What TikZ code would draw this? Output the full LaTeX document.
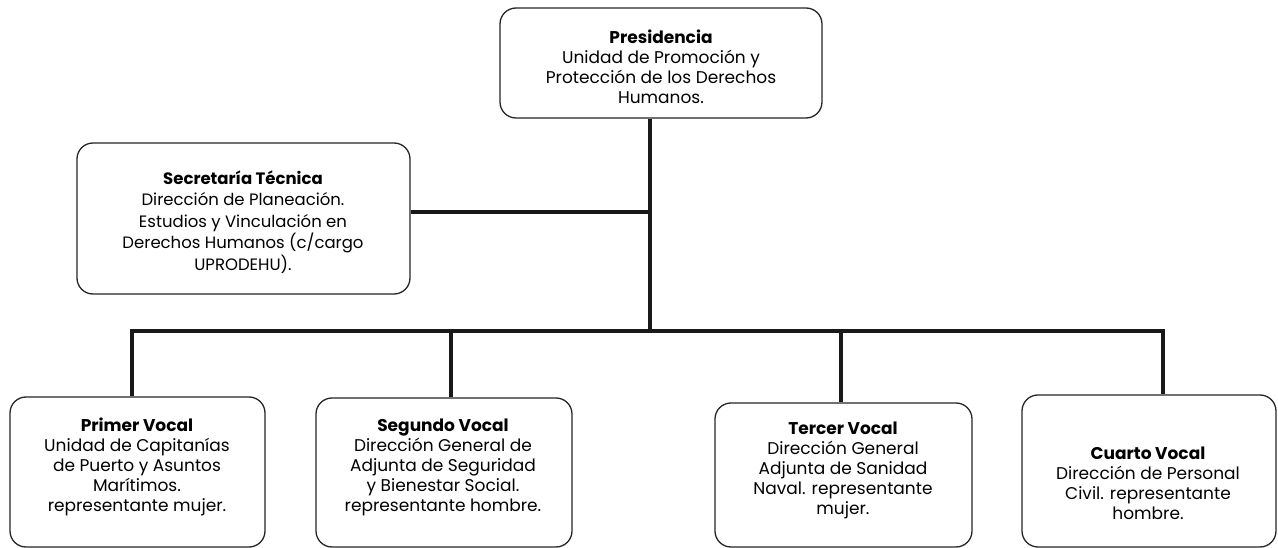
\documentclass[tikz,border=0pt]{standalone}
\usepackage{fontspec}
\setmainfont{Poppins}
\begin{document}
\begin{tikzpicture}[x=1pt,y=-1pt,
  box/.style={draw=black!85,line width=1.3pt,rounded corners=16pt,fill=white,inner sep=0pt},
  lbl/.style={align=center,font=\fontsize{17}{20}\selectfont,text=black,inner sep=0pt},
  conn/.style={draw=black!90,line width=3.6pt}]
\useasboundingbox (0,0) rectangle (1278,548);
\fill[white] (0,0) rectangle (1278,548);
% connectors
\coordinate (tj) at (650,212);
\coordinate (d1) at (132,331);
\coordinate (d2) at (451,331);
\coordinate (d3) at (841,331);
\coordinate (d4) at (1163,331);
\coordinate (bj) at (650,331);
% boxes
\node[box,minimum width=322pt,minimum height=110pt] (pres) at (661,63) {};
\node[box,minimum width=333pt,minimum height=151pt] (sec) at (243.5,218.5) {};
\node[box,minimum width=255pt,minimum height=150pt] (v1) at (137.5,472) {};
\node[box,minimum width=256pt,minimum height=149pt] (v2) at (444,472.5) {};
\node[box,minimum width=257pt,minimum height=144pt] (v3) at (843.5,475) {};
\node[box,minimum width=254pt,minimum height=152pt] (v4) at (1149,471) {};
\draw[conn] (pres.south -| tj) -- (bj);
\draw[conn] (sec.east |- tj) -- (tj);
\draw[conn,line join=miter] (v1.north -| d1) -- (d1) -- (d4) -- (v4.north -| d4);
\draw[conn] (d2) -- (v2.north -| d2);
\draw[conn] (d3) -- (v3.north -| d3);
% labels
\node[lbl] (presl) at (661,67) {\textbf{Presidencia}\\Unidad de Promoción y\\Protección de los Derechos\\Humanos.};
\node[lbl,font=\fontsize{16.5}{21.5}\selectfont] (secl) at (243,222) {\textbf{Secretaría Técnica}\\Dirección de Planeación.\\Estudios y Vinculación en\\Derechos Humanos (c/cargo\\UPRODEHU).};
\node[lbl] (v1l) at (137,467) {\textbf{Primer Vocal}\\Unidad de Capitanías\\de Puerto y Asuntos\\Marítimos.\\representante mujer.};
\node[lbl] (v2l) at (443,467) {\textbf{Segundo Vocal}\\Dirección General de\\Adjunta de Seguridad\\y Bienestar Social.\\representante hombre.};
\node[lbl] (v3l) at (843,470) {\textbf{Tercer Vocal}\\Dirección General\\Adjunta de Sanidad\\Naval. representante\\mujer.};
\node[lbl] (v4l) at (1148,483) {\textbf{Cuarto Vocal}\\Dirección de Personal\\Civil. representante\\hombre.};
\end{tikzpicture}
\end{document}
